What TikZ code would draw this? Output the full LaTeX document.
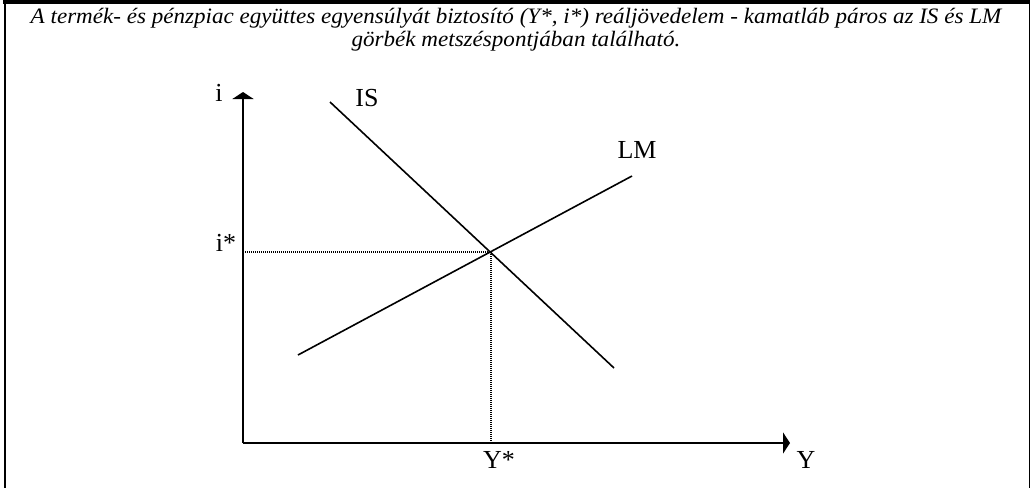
\documentclass[tikz,border=0pt]{standalone}
\usepackage{fontspec}
\setmainfont{Liberation Serif}
\usetikzlibrary{arrows.meta}
\begin{document}
\begin{tikzpicture}[x=1pt,y=-1pt,
  lbl/.style={inner sep=0pt,font=\fontsize{26}{28}\selectfont},
  ttl/.style={inner sep=0pt,font=\fontsize{22}{24}\selectfont\itshape},
  axis/.style={line width=2pt,-{Triangle[length=7pt,width=21pt]}},
  curve/.style={line width=1.6pt},
  guide/.style={line width=1.3pt,dash pattern=on 1.2pt off 0.8pt}]
\useasboundingbox (0,0) rectangle (1031,488);
% frame
\draw[line width=3.5pt] (3,2) -- (1030,2);
\draw[line width=2pt] (5,2) -- (5,488);
\draw[line width=1.5pt] (1029.5,2) -- (1029.5,488);
% title
\node[ttl] (t1) at (516,18) {\scalebox{1.049}[1]{A termék- és pénzpiac együttes egyensúlyát biztosító (Y*, i*) reáljövedelem - kamatláb páros az IS és LM}};
\node[ttl] (t2) at (516,41) {\scalebox{1.049}[1]{görbék metszéspontjában található.}};
% axes
\coordinate (O) at (243,443);
\coordinate (ytop) at (243,92);
\coordinate (xend) at (790,443);
\draw[axis] (O) -- (ytop);
\draw[axis] (O) -- (xend);
% curves
\coordinate (is1) at (330,102);
\coordinate (is2) at (614,368);
\coordinate (lm1) at (298,355);
\coordinate (lm2) at (632,176);
\coordinate (E) at (491,252);
\draw[curve] (is1) -- (is2);
\draw[curve] (lm1) -- (lm2);
\coordinate (Ey) at (243,252);
\coordinate (Ex) at (491,443);
\draw[guide] (Ey) -- (E) -- (Ex);
% labels
\node[lbl] (li) at (219,93) {i};
\node[lbl] (lIS) at (367,98) {IS};
\node[lbl] (lLM) at (637,150) {LM};
\node[lbl] (listar) at (226,243) {i*};
\node[lbl] (lYstar) at (499,460) {Y*};
\node[lbl] (lY) at (806,460) {Y};
\end{tikzpicture}
\end{document}
